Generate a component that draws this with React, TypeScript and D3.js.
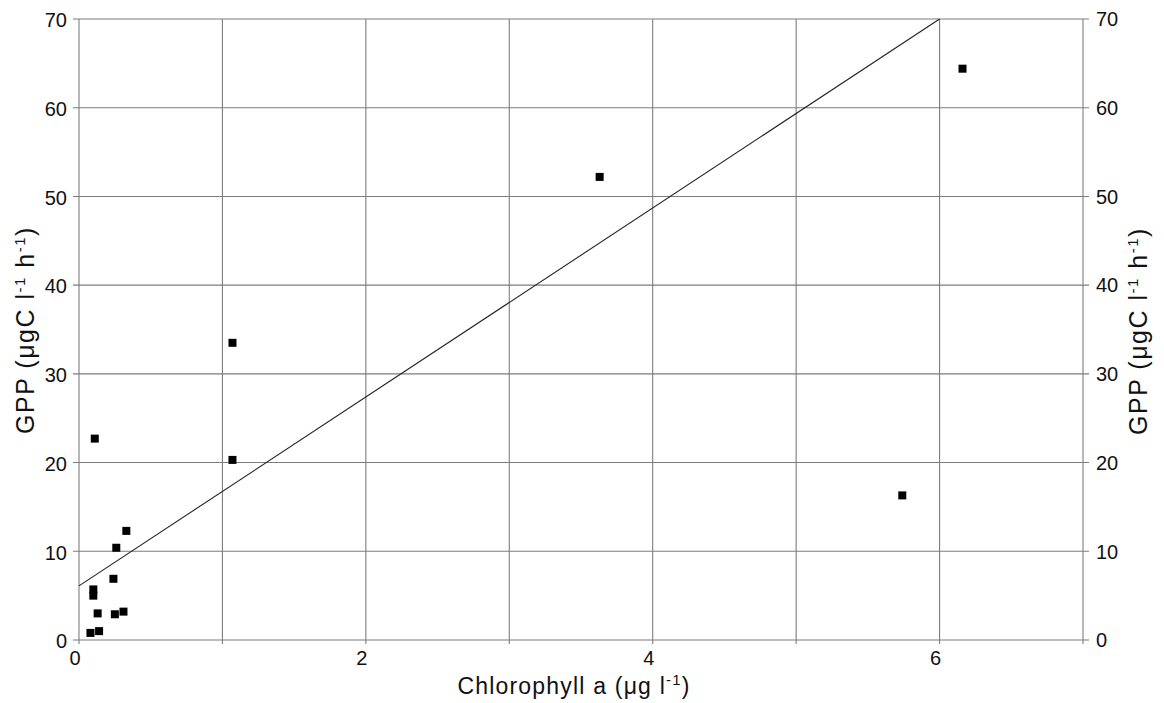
import React from "react";
import { scaleLinear, range, line } from "d3";

// observed samples: chlorophyll a (µg l-1) vs GPP (µgC l-1 h-1)
const chlorophyll = [0.11, 1.07, 1.07, 3.63, 6.16, 5.74, 0.33, 0.26, 0.24, 0.1, 0.1, 0.13, 0.25, 0.31, 0.08, 0.14];
const gpp = [22.7, 33.5, 20.3, 52.2, 64.4, 16.3, 12.3, 10.4, 6.9, 5.7, 5.0, 3.0, 2.9, 3.2, 0.8, 1.0];

// fitted regression line
const fitIntercept = 6.1;
const fitSlope = 10.65;

const xTicks = [0, 2, 4, 6];
const yTicks = [0, 10, 20, 30, 40, 50, 60, 70];

const width = 1164;
const height = 703;
const margin = { left: 79, right: 81, top: 19, bottom: 63 };

const font = "'Liberation Sans', Arial, sans-serif";
const gridColor = "#7d7d7d";

const App = () => {
  const x = scaleLinear().domain([0, 7]).range([margin.left, width - margin.right]);
  const y = scaleLinear().domain([0, 70]).range([height - margin.bottom, margin.top]);

  const xEnd = (70 - fitIntercept) / fitSlope;
  const fitPath = line<number>()
    .x(d => x(d))
    .y(d => y(fitIntercept + fitSlope * d))([0, xEnd]);

  const points = chlorophyll.map((c, i) => ({ c, g: gpp[i] }));
  const size = 8;

  const yTitle = (
    <>
      GPP (μgC l
      <tspan dy="-9" fontSize="15">-1</tspan>
      <tspan dy="9"> h</tspan>
      <tspan dy="-9" fontSize="15">-1</tspan>
      <tspan dy="9">)</tspan>
    </>
  );

  return (
    <svg
      width={width}
      height={height}
      style={{ position: "absolute", left: 0, top: 0, background: "#fff" }}
      fontFamily={font}
    >
      {/* grid */}
      {range(0, 8).map(v => (
        <line key={"vx" + v} x1={x(v)} x2={x(v)} y1={y(70)} y2={y(0) + 4} stroke={gridColor} strokeWidth={1.1} />
      ))}
      {yTicks.map(v => (
        <line key={"hy" + v} x1={x(0) - 6} x2={x(7) + 6} y1={y(v)} y2={y(v)} stroke={gridColor} strokeWidth={1.1} />
      ))}

      {/* fit */}
      <path d={fitPath || ""} fill="none" stroke="#222" strokeWidth={1.1} />

      {/* points */}
      {points.map((p, i) => (
        <rect key={i} x={x(p.c) - size / 2} y={y(p.g) - size / 2} width={size} height={size} fill="#000" />
      ))}

      {/* left ticks */}
      {yTicks.map(v => (
        <text key={"ly" + v} x={x(0) - 12} y={y(v) + 3} textAnchor="end" dominantBaseline="middle" fontSize={20} fill="#111">
          {v}
        </text>
      ))}
      {/* right ticks */}
      {yTicks.map(v => (
        <text key={"ry" + v} x={x(7) + 13} y={y(v) + 2} textAnchor="start" dominantBaseline="middle" fontSize={20} fill="#111">
          {v}
        </text>
      ))}
      {/* x ticks */}
      {xTicks.map(v => (
        <text key={"xt" + v} x={x(v) - 4} y={y(0) + 25} textAnchor="middle" fontSize={20} fill="#111">
          {v}
        </text>
      ))}

      {/* axis titles */}
      <text x={574} y={694} textAnchor="middle" fontSize={23} letterSpacing={1.2} fill="#111">
        Chlorophyll a (μg l
        <tspan dy="-9" fontSize="15">-1</tspan>
        <tspan dy="9">)</tspan>
      </text>
      <text transform={`translate(34,${330}) rotate(-90)`} textAnchor="middle" fontSize={25} letterSpacing={1.5} fill="#111">
        {yTitle}
      </text>
      <text transform={`translate(1147,${331}) rotate(-90)`} textAnchor="middle" fontSize={25} letterSpacing={1.5} fill="#111">
        {yTitle}
      </text>
    </svg>
  );
};

export default App;
